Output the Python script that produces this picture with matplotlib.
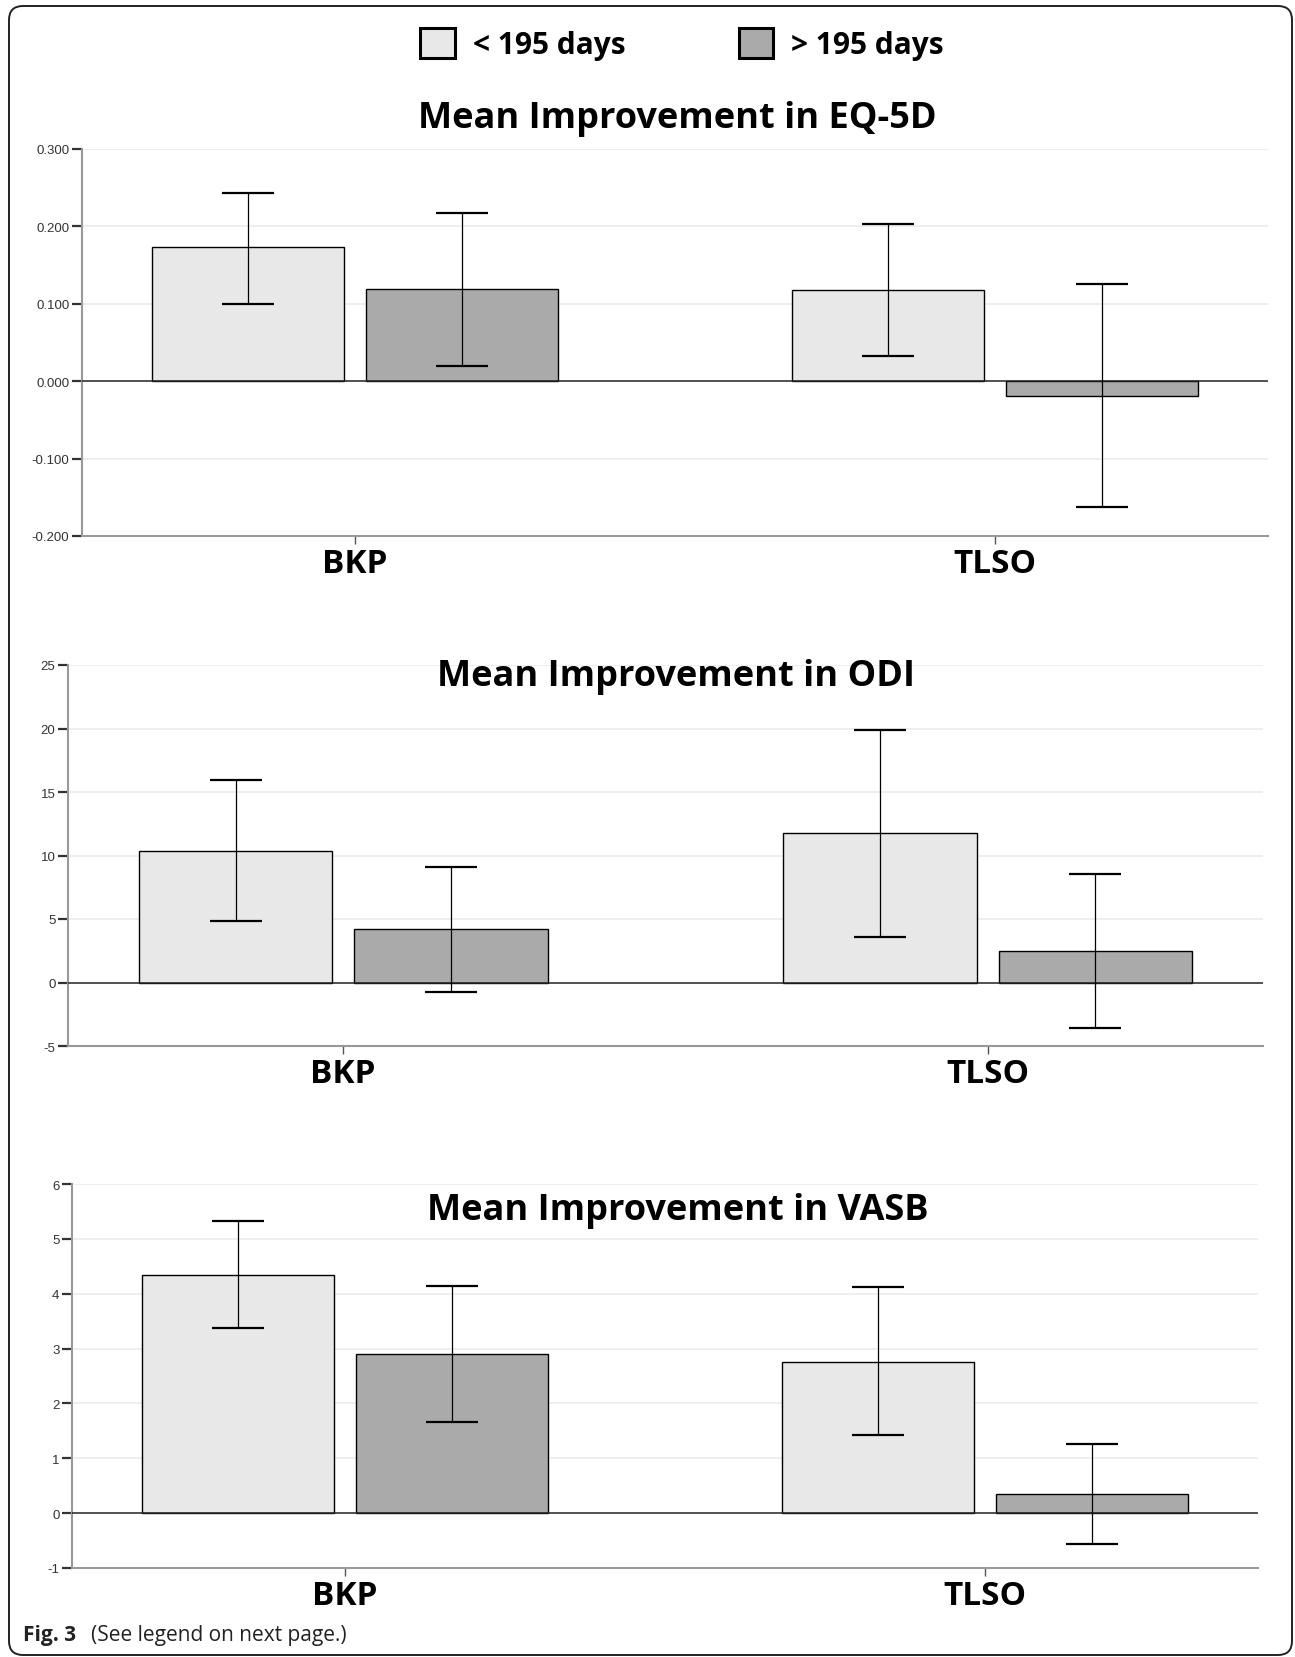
import matplotlib
matplotlib.use("Agg")
import matplotlib.pyplot as plt
import matplotlib.patches as mpatches
import matplotlib.transforms as mtransforms

# Data
groups = ["BKP", "TLSO"]
series_names = ["< 195 days", "> 195 days"]

eq5d_short = [0.173, 0.118]
eq5d_short_lo = [0.100, 0.032]
eq5d_short_hi = [0.243, 0.203]
eq5d_long = [0.119, -0.019]
eq5d_long_lo = [0.020, -0.163]
eq5d_long_hi = [0.217, 0.125]

odi_short = [10.37, 11.76]
odi_short_lo = [4.83, 3.60]
odi_short_hi = [15.91, 19.88]
odi_long = [4.18, 2.49]
odi_long_lo = [-0.76, -3.62]
odi_long_hi = [9.09, 8.51]

vasb_short = [4.34, 2.76]
vasb_short_lo = [3.37, 1.42]
vasb_short_hi = [5.32, 4.12]
vasb_long = [2.91, 0.35]
vasb_long_lo = [1.66, -0.57]
vasb_long_hi = [4.14, 1.26]

eq5d_ticks = [-0.2, -0.1, 0.0, 0.1, 0.2, 0.3]
eq5d_ticklabels = ["-0.200", "-0.100", "0.000", "0.100", "0.200", "0.300"]
odi_ticks = [-5, 0, 5, 10, 15, 20, 25]
odi_ticklabels = ["-5", "0", "5", "10", "15", "20", "25"]
vasb_ticks = [-1, 0, 1, 2, 3, 4, 5, 6]
vasb_ticklabels = ["-1", "0", "1", "2", "3", "4", "5", "6"]

light = "#e8e8e8"
dark = "#aaaaaa"

W, H = 1295, 1658
fig = plt.figure(figsize=(W / 100, H / 100), dpi=100)
fig.patch.set_facecolor("white")


def box(l, r, t, b):
    return [l / W, 1 - b / H, (r - l) / W, (b - t) / H]


def draw_panel(rect, short, s_lo, s_hi, long_, l_lo, l_hi, ticks, ticklabels, title, title_xy):
    ax = fig.add_axes(box(*rect))
    x = [0, 1]
    bw = 0.30
    off = 0.167
    for xs, vals, lo, hi, col in [([i - off for i in x], short, s_lo, s_hi, light),
                                  ([i + off for i in x], long_, l_lo, l_hi, dark)]:
        ax.bar(xs, vals, width=bw, color=col, edgecolor="black", linewidth=1.0, zorder=3)
        yerr = [[v - a for v, a in zip(vals, lo)], [b - v for v, b in zip(vals, hi)]]
        ax.errorbar(xs, vals, yerr=yerr, fmt="none", ecolor="black", elinewidth=0.9,
                    capsize=19, capthick=1.6, zorder=4)
    ax.axhline(0, color="#222222", linewidth=1.1, zorder=3.5)
    ax.set_xlim(-0.427, 1.427)
    ax.set_ylim(ticks[0], ticks[-1])
    ax.set_yticks(ticks)
    ax.set_yticklabels(ticklabels, fontsize=9.5, color="#333333", family="Liberation Sans")
    for t in ticks:
        if t != 0:
            ax.axhline(t, color="#ebebeb", linewidth=1.2, zorder=1)
    ax.set_xticks(x)
    ax.set_xticklabels(groups, fontsize=24, fontweight="bold", family="Open Sans")
    ax.tick_params(axis="y", length=7, width=1.6, color="#333333", pad=2)
    ax.tick_params(axis="x", length=6, width=1.0, color="#555555", pad=2)
    for s in ["top", "right"]:
        ax.spines[s].set_visible(False)
    for s in ["left", "bottom"]:
        ax.spines[s].set_color("#999999")
        ax.spines[s].set_linewidth(1.5)
    fig.text(title_xy[0] / W, 1 - title_xy[1] / H, title, ha="center", va="baseline",
             fontsize=26, fontweight="bold", family="Open Sans")
    return ax


draw_panel((82, 1268, 150, 537), eq5d_short, eq5d_short_lo, eq5d_short_hi,
           eq5d_long, eq5d_long_lo, eq5d_long_hi, eq5d_ticks, eq5d_ticklabels,
           "Mean Improvement in EQ-5D", (677, 128))
draw_panel((68, 1263, 666, 1047), odi_short, odi_short_lo, odi_short_hi,
           odi_long, odi_long_lo, odi_long_hi, odi_ticks, odi_ticklabels,
           "Mean Improvement in ODI", (676, 686))
draw_panel((72, 1258, 1185, 1569), vasb_short, vasb_short_lo, vasb_short_hi,
           vasb_long, vasb_long_lo, vasb_long_hi, vasb_ticks, vasb_ticklabels,
           "Mean Improvement in VASB", (678, 1220))

# legend
handles = [mpatches.Patch(facecolor=light, edgecolor="black", linewidth=2.2),
           mpatches.Patch(facecolor=dark, edgecolor="black", linewidth=2.2)]
fig.legend(handles, series_names, loc="center", bbox_to_anchor=(682 / W, 1 - 45 / H),
           ncol=2, frameon=False, handlelength=1.15, handleheight=1.15, columnspacing=3.8,
           handletextpad=0.6, prop={"family": "Open Sans", "weight": "bold", "size": 21.5})

# caption
fig.text(23 / W, 1 - 1641 / H, "Fig. 3", fontsize=15, fontweight="bold", family="Open Sans",
         color="#222222", va="baseline")
fig.text(91 / W, 1 - 1641 / H, "(See legend on next page.)", fontsize=15, family="Open Sans",
         color="#222222", va="baseline")

# rounded frame
frame = mpatches.FancyBboxPatch((9, 2), 1283, 1649, boxstyle="round,pad=0,rounding_size=14",
                                facecolor="none", edgecolor="#222222", linewidth=1.4,
                                transform=mtransforms.IdentityTransform())
fig.add_artist(frame)

fig.savefig("out.png", dpi=100)
